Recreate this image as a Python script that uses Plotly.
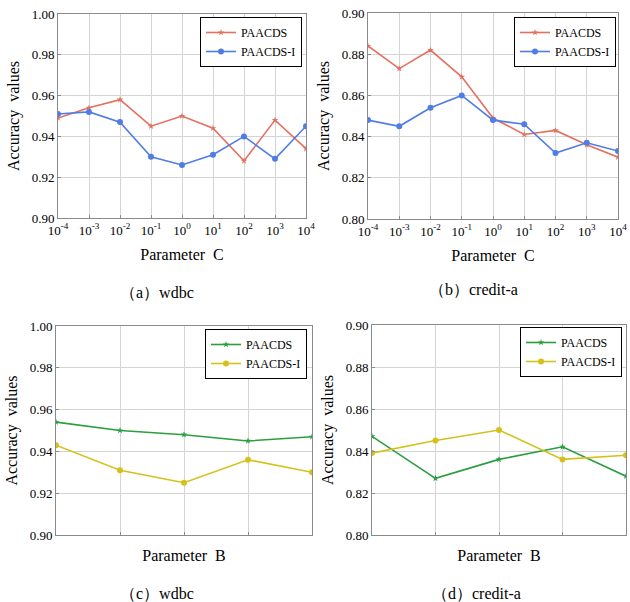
import plotly.graph_objects as go

# ---- data ----
c_exponents = [-4, -3, -2, -1, 0, 1, 2, 3, 4]
c_ticklabels = ["10<sup>-4</sup>", "10<sup>-3</sup>", "10<sup>-2</sup>", "10<sup>-1</sup>", "10<sup>0</sup>",
                "10<sup>1</sup>", "10<sup>2</sup>", "10<sup>3</sup>", "10<sup>4</sup>"]
b_positions = [0, 1, 2, 3, 4]

wdbc_c_paacds = [0.949, 0.954, 0.958, 0.945, 0.950, 0.944, 0.928, 0.948, 0.934]
wdbc_c_paacds_i = [0.951, 0.952, 0.947, 0.930, 0.926, 0.931, 0.940, 0.929, 0.945]
credit_c_paacds = [0.884, 0.873, 0.882, 0.869, 0.849, 0.841, 0.843, 0.836, 0.830]
credit_c_paacds_i = [0.848, 0.845, 0.854, 0.860, 0.848, 0.846, 0.832, 0.837, 0.833]

wdbc_b_paacds = [0.954, 0.950, 0.948, 0.945, 0.947]
wdbc_b_paacds_i = [0.943, 0.931, 0.925, 0.936, 0.930]
credit_b_paacds = [0.847, 0.827, 0.836, 0.842, 0.828]
credit_b_paacds_i = [0.839, 0.845, 0.850, 0.836, 0.838]

captions = ["（a）wdbc", "（b）credit-a", "（c）wdbc", "（d）credit-a"]

RED = "#e5705f"
BLUE = "#4f7ce6"
GREEN = "#2a9f3e"
YELLOW = "#d5c11c"
FONT = "Liberation Serif, Times New Roman, serif"

W, H = 630, 602

def fx(px):
    return px / W

def fy(py):
    return 1 - py / H

fig = go.Figure()

def add_pair(x, y1, y2, c1, c2, xa, ya, leg):
    fig.add_trace(go.Scatter(x=x, y=y1, mode="lines+markers", name="PAACDS",
                             line=dict(color=c1, width=1.6),
                             marker=dict(symbol="star", size=5, color=c1),
                             xaxis=xa, yaxis=ya, legend=leg))
    fig.add_trace(go.Scatter(x=x, y=y2, mode="lines+markers", name="PAACDS-I",
                             line=dict(color=c2, width=1.6),
                             marker=dict(symbol="circle", size=6, color=c2),
                             xaxis=xa, yaxis=ya, legend=leg))

add_pair(c_exponents, wdbc_c_paacds, wdbc_c_paacds_i, RED, BLUE, "x", "y", "legend")
add_pair(c_exponents, credit_c_paacds, credit_c_paacds_i, RED, BLUE, "x2", "y2", "legend2")
add_pair(b_positions, wdbc_b_paacds, wdbc_b_paacds_i, GREEN, YELLOW, "x3", "y3", "legend3")
add_pair(b_positions, credit_b_paacds, credit_b_paacds_i, GREEN, YELLOW, "x4", "y4", "legend4")

def axis_common():
    return dict(showline=True, mirror=True, linecolor="#8a8a8a", linewidth=1,
                showgrid=True, gridcolor="#d4d4d4", gridwidth=1, zeroline=False,
                ticks="inside", ticklen=3, tickcolor="#8a8a8a",
                automargin=False, ticklabeloverflow="allow",
                tickfont=dict(family=FONT, size=13, color="black"))

def xaxis_c(x0, x1, anchor):
    return dict(axis_common(), domain=[fx(x0), fx(x1)], anchor=anchor, range=[-4, 4],
                tickmode="array", tickvals=c_exponents, ticktext=c_ticklabels,
                title=dict(text="Parameter  C", font=dict(family=FONT, size=16, color="black"), standoff=12))

def xaxis_b(x0, x1, anchor):
    return dict(axis_common(), domain=[fx(x0), fx(x1)], anchor=anchor, range=[0, 4],
                tickmode="array", tickvals=b_positions, showticklabels=False,
                title=dict(text="Parameter  B", font=dict(family=FONT, size=16, color="black"), standoff=14))

def yaxis(y_top, y_bot, anchor, lo, hi):
    return dict(axis_common(), domain=[fy(y_bot), fy(y_top)], anchor=anchor, range=[lo, hi],
                tickmode="linear", tick0=lo, dtick=0.02, tickformat=".2f",
                title=dict(text="Accuracy  values", font=dict(family=FONT, size=16, color="black"), standoff=8))

def legend(px_right, py_top):
    return dict(x=fx(px_right), y=fy(py_top), xanchor="right", yanchor="top", xref="paper", yref="paper",
                bgcolor="white", bordercolor="black", borderwidth=1,
                font=dict(family=FONT, size=12, color="black"),
                tracegroupgap=0, itemwidth=30)

fig.update_layout(
    template="none",
    width=W, height=H,
    margin=dict(l=0, r=0, t=0, b=0, autoexpand=False),
    font=dict(family=FONT, size=13, color="black"),
    paper_bgcolor="white", plot_bgcolor="white",
    showlegend=True,
    xaxis=xaxis_c(58, 306, "y"),
    yaxis=yaxis(14, 218, "x", 0.90, 1.00),
    xaxis2=xaxis_c(368, 618, "y2"),
    yaxis2=yaxis(13, 219, "x2", 0.80, 0.90),
    xaxis3=xaxis_b(56, 312, "y3"),
    yaxis3=yaxis(326, 535, "x3", 0.90, 1.00),
    xaxis4=xaxis_b(372, 626, "y4"),
    yaxis4=yaxis(325, 535, "x4", 0.80, 0.90),
    legend=legend(302, 17),
    legend2=legend(616, 17),
    legend3=legend(307, 329),
    legend4=legend(622, 327),
)

caption_pos = [(157, 292), (473, 290), (157, 593), (476, 593)]
for text, (cx, cy) in zip(captions, caption_pos):
    fig.add_annotation(text=text, x=fx(cx), y=fy(cy), xref="paper", yref="paper",
                       showarrow=False, xanchor="center", yanchor="middle",
                       font=dict(family=FONT, size=16, color="black"))

fig.write_html("out.html",
               config={"displayModeBar": False},
               post_script="document.body.style.margin='0';"
                           "document.documentElement.style.overflow='hidden';"
                           "document.body.style.overflow='hidden';")
